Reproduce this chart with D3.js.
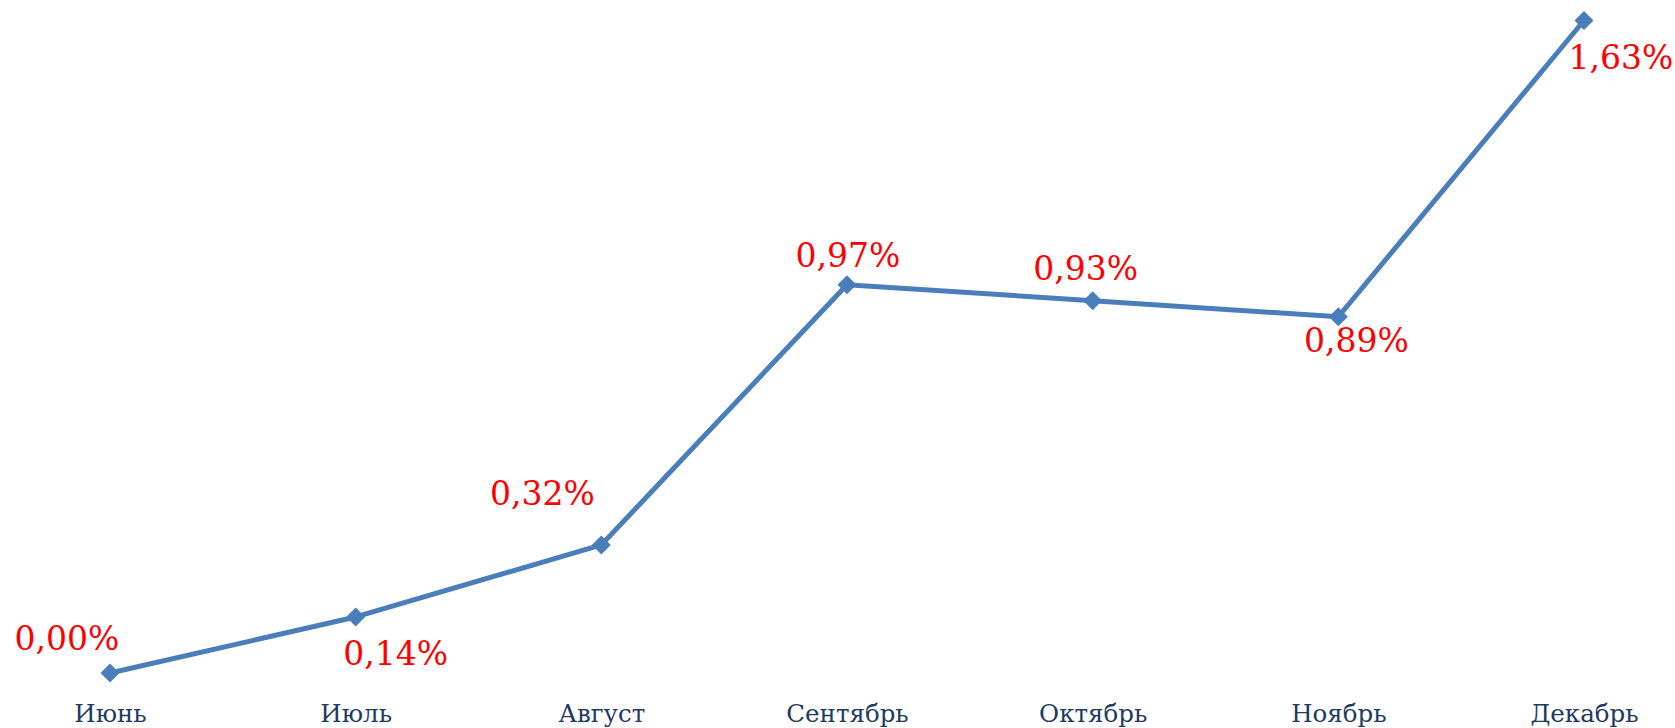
<!DOCTYPE html>
<html lang="ru">
<head>
<meta charset="utf-8">
<title>Динамика, %</title>
<script src="https://cdn.jsdelivr.net/npm/d3@7"></script>
<style>
  html, body { margin: 0; padding: 0; background: #ffffff; }
  svg { display: block; }
  .axis-x text { font-family: "DejaVu Serif", "Liberation Serif", serif; font-size: 24.5px; fill: #1f3a60; }
  .value-label { font-family: "DejaVu Serif", "Liberation Serif", serif; font-size: 33px; fill: #ff0000; }
</style>
</head>
<body>
<script>
// Months shown along the horizontal axis
const months = ["Июнь", "Июль", "Август", "Сентябрь", "Октябрь", "Ноябрь", "Декабрь"];
// Monthly values, percent
const values = [0.00, 0.14, 0.32, 0.97, 0.93, 0.89, 1.63];

// Value-label nudges from each marker, [dx, dy] in px (layout only)
const labelNudge = [[-43, -23], [40, 48], [-59, -40], [1, -18], [-7, -21], [18, 35], [37, 48]];

const W = 1675, H = 728;
const lineColor = "#4a7ebb";

const svg = d3.select("body").append("svg")
  .attr("width", W)
  .attr("height", H);

const x = d3.scalePoint()
  .domain(months)
  .range([110, 1584]);

const y = d3.scaleLinear()
  .domain([0, 1.63])
  .range([673, 20.5]);

const points = months.map((m, i) => ({ month: m, value: values[i], nudge: labelNudge[i] }));

// Category labels
const xAxis = d3.axisBottom(x).tickSize(0).tickPadding(0);
const gx = svg.append("g")
  .attr("class", "axis-x")
  .attr("transform", "translate(0,722)")
  .call(xAxis);
gx.select(".domain").remove();
gx.selectAll("text").attr("y", 0).attr("dy", 0).attr("font-family", null).attr("font-size", null);

// Series line
const line = d3.line()
  .x(d => x(d.month))
  .y(d => y(d.value));

svg.append("path")
  .datum(points)
  .attr("d", line)
  .attr("fill", "none")
  .attr("stroke", lineColor)
  .attr("stroke-width", 5)
  .attr("stroke-linejoin", "round");

// Diamond markers
const diamond = d3.symbol().type(d3.symbolSquare).size(180);
svg.append("g")
  .selectAll("path")
  .data(points)
  .join("path")
  .attr("d", diamond)
  .attr("fill", lineColor)
  .attr("transform", d => `translate(${x(d.month)},${y(d.value)}) rotate(45)`);

// Value labels
const fmt = v => v.toFixed(2).replace(".", ",") + "%";

svg.append("g")
  .selectAll("text")
  .data(points)
  .join("text")
  .attr("class", "value-label")
  .attr("text-anchor", "middle")
  .attr("x", d => x(d.month) + d.nudge[0])
  .attr("y", d => y(d.value) + d.nudge[1])
  .text(d => fmt(d.value));
</script>
</body>
</html>
